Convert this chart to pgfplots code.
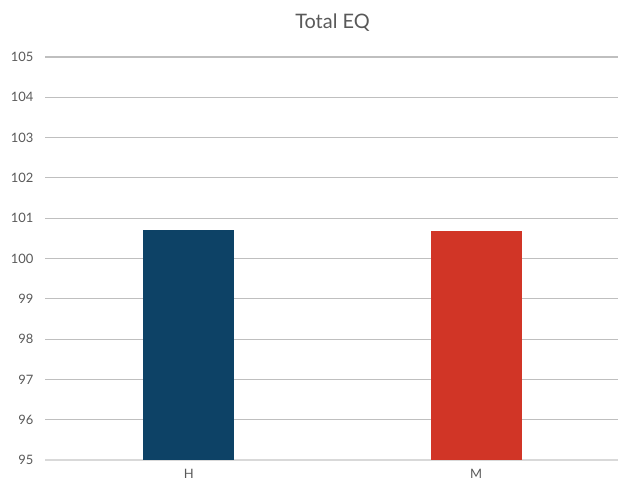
\documentclass[border=0pt]{standalone}
\usepackage{pgfplots}
\pgfplotsset{compat=1.18}
\usepackage{fontspec}
\setmainfont{Lato}
\definecolor{hblue}{HTML}{0D4266}
\definecolor{mred}{HTML}{D13526}
\definecolor{txt}{HTML}{595959}
\definecolor{grid}{HTML}{D9D9D9}
\begin{document}
\begin{tikzpicture}[x=1bp,y=1bp]
\useasboundingbox (0,0) rectangle (618,491);
\begin{axis}[
  at={(45bp,31bp)}, anchor=south west,
  scale only axis, width=575bp, height=403bp,
  xmin=-0.5, xmax=1.5, ymin=95, ymax=105,
  xtick={0,1}, xticklabels={H,M},
  ytick={95,96,...,105},
  ymajorgrids, xmajorgrids=false,
  major grid style={grid, line width=1.1pt},
  axis x line*=bottom,
  axis y line*=left,
  x axis line style={draw=grid, line width=1.1pt, -},
  y axis line style={draw=none},
  major tick length=0pt,
  tick style={draw=none},
  ticklabel style={font=\fontsize{13}{15}\selectfont, text=txt},
  /pgf/number format/assume math mode=true,
  yticklabel style={xshift=-8bp},
  xticklabel style={yshift=-6bp},
  title={Total EQ},
  title style={font=\fontsize{20}{23}\selectfont, text=txt, yshift=16bp},
  ybar, bar width=91bp, bar shift=0pt,
  clip=false,
]
\addplot[fill=hblue, draw=none] coordinates {(0,100.71)};
\addplot[fill=mred, draw=none] coordinates {(1,100.69)};
\end{axis}
\end{tikzpicture}
\end{document}
